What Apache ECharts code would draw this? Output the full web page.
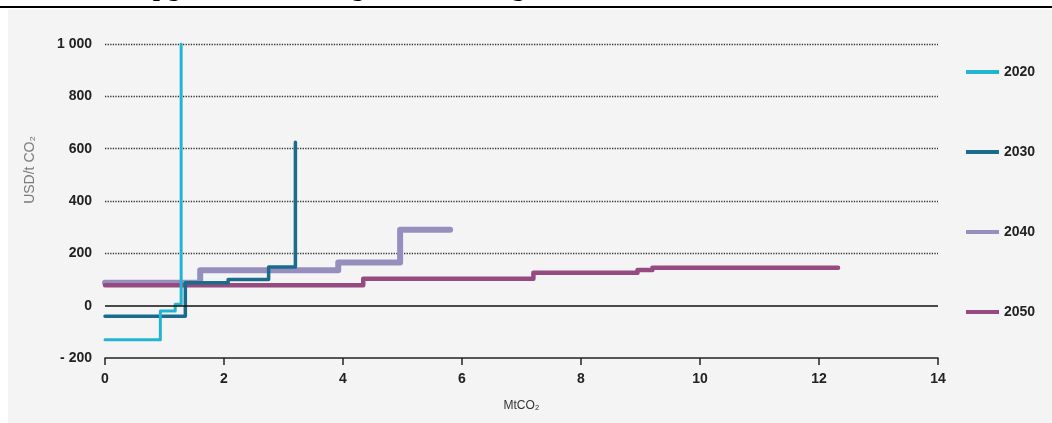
<!DOCTYPE html>
<html>
<head>
<meta charset="utf-8">
<title>Abatement cost curves</title>
<script src="https://cdn.jsdelivr.net/npm/echarts@6/dist/echarts.min.js"></script>
<style>
  html, body { margin: 0; padding: 0; background: #ffffff; }
  #chart { width: 1052px; height: 423px; }
</style>
</head>
<body>
<div id="chart"></div>
<script>
// Step curves: each point starts a block (cumulative MtCO2, USD/tCO2).
// The last point closes the curve.
const years = ['2020', '2030', '2040', '2050'];

const cap2020 = [0, 0.93, 1.18, 1.28];
const cost2020 = [-130, -20, 5, 1000];

const cap2030 = [0, 1.35, 2.07, 2.75, 3.2];
const cost2030 = [-40, 88, 100, 148, 625];

const cap2040 = [0, 1.6, 3.92, 4.96, 5.8];
const cost2040 = [88, 135, 165, 290, 290];

const cap2050 = [0, 4.34, 7.2, 8.95, 9.2, 12.32];
const cost2050 = [78, 103, 126, 136, 145, 145];

const yTickValues = [-200, 0, 200, 400, 600, 800, 1000];
const yTickLabels = ['- 200', '0', '200', '400', '600', '800', '1 000'];
const xTickLabels = ['0', '2', '4', '6', '8', '10', '12', '14'];

const colors = {
  '2020': '#22b4d3',
  '2030': '#1b6b8d',
  '2040': '#968fbe',
  '2050': '#964b80'
};

function pairs(xs, ys) {
  return xs.map((x, i) => [x, ys[i]]);
}

function stepSeries(name, xs, ys, width, extra) {
  return Object.assign({
    name: name,
    type: 'line',
    step: 'end',
    showSymbol: false,
    symbol: 'none',
    color: colors[name],
    lineStyle: { color: colors[name], width: width, cap: 'round', join: 'round' },
    data: pairs(xs, ys)
  }, extra || {});
}

const labelFont = '"Liberation Sans", Arial, sans-serif';

const chart = echarts.init(document.getElementById('chart'), null, { renderer: 'canvas' });

chart.setOption({
  animation: false,
  backgroundColor: 'transparent',
  graphic: [
    { type: 'rect', z: -10, shape: { x: 8, y: 9.5, width: 1044, height: 414 }, style: { fill: '#f4f4f4' } },
    { type: 'rect', z: 5, shape: { x: 0, y: 6, width: 1052, height: 2 }, style: { fill: '#000000' } },
    {
      type: 'text', z: 4, x: -69, y: 2,
      style: {
        text: 'Abatement cost of upgrades to the biogas and heating',
        font: 'bold 26px "Liberation Serif", serif',
        fill: '#000000',
        textAlign: 'left',
        textVerticalAlign: 'bottom'
      }
    },
    {
      type: 'text', x: 30, y: 170, rotation: Math.PI / 2,
      style: {
        text: 'USD/t CO\u2082',
        font: '14px ' + labelFont,
        fill: '#7a7a7a',
        textAlign: 'center',
        textVerticalAlign: 'middle'
      }
    }
  ],
  grid: { left: 105, right: 114, top: 44, bottom: 65, containLabel: false },
  legend: {
    data: years,
    orient: 'vertical',
    left: 961,
    top: 60,
    icon: 'rect',
    itemWidth: 33,
    itemHeight: 4,
    itemGap: 66,
    textStyle: { fontFamily: labelFont, fontSize: 14, fontWeight: 'bold', color: '#222222' }
  },
  xAxis: {
    type: 'value',
    min: 0, max: 14, interval: 2,
    name: 'MtCO\u2082',
    nameLocation: 'middle',
    nameGap: 42,
    nameTextStyle: { fontFamily: labelFont, fontSize: 12, color: '#333333' },
    axisLine: { show: true, onZero: false, lineStyle: { color: '#222222', width: 1.5 } },
    axisTick: { show: true, length: 7, lineStyle: { color: '#222222', width: 1.5 } },
    splitLine: { show: false },
    axisLabel: {
      margin: 14,
      fontFamily: labelFont, fontSize: 14, fontWeight: 'bold', color: '#222222',
      formatter: v => xTickLabels[Math.round(v / 2)]
    }
  },
  yAxis: {
    type: 'value',
    min: -200, max: 1000, interval: 200,
    axisLine: { show: false },
    axisTick: { show: false },
    splitLine: {
      show: true,
      lineStyle: {
        type: 'dotted', width: 1.3,
        color: ['rgba(0,0,0,0)', 'rgba(0,0,0,0)', '#333333', '#333333', '#333333', '#333333', '#333333']
      }
    },
    axisLabel: {
      margin: 13,
      fontFamily: labelFont, fontSize: 14, fontWeight: 'bold', color: '#222222',
      formatter: v => yTickLabels[yTickValues.indexOf(v)]
    }
  },
  series: [
    stepSeries('2040', cap2040, cost2040, 6, {
      markLine: {
        silent: true, symbol: 'none', animation: false,
        label: { show: false },
        lineStyle: { color: '#111111', type: 'solid', width: 1.5 },
        data: [{ yAxis: 0 }]
      }
    }),
    stepSeries('2050', cap2050, cost2050, 4.5),
    stepSeries('2030', cap2030, cost2030, 3.5),
    stepSeries('2020', cap2020, cost2020, 3)
  ]
});
</script>
</body>
</html>
